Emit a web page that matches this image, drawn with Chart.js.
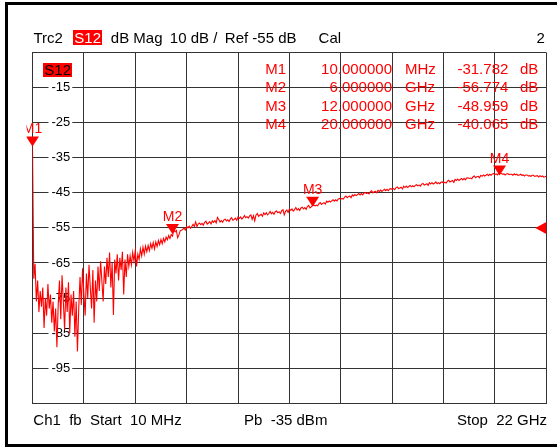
<!DOCTYPE html>
<html lang="en">
<head>
<meta charset="UTF-8">
<title>Trc2 S12 dB Mag</title>
<script src="https://cdn.jsdelivr.net/npm/chart.js"></script>
<style>
    body { margin: 0; background: #fff; font-family: "Liberation Sans", Arial, sans-serif; }
    #wrap { position: relative; width: 557px; height: 447px; overflow: hidden; background: #fff; }
    #frame { position: absolute; left: 5px; top: 2px; width: 600px; height: 439px; border: 3px solid #000; pointer-events: none; }
    canvas { position: absolute; left: 0; top: 0; }
    .t { position: absolute; font-size: 15px; line-height: 15px; white-space: pre; color: #000; }
    .red { color: #f00; }
    .tag { background: #f00; padding: 0 1px; }
</style>
</head>
<body>
<div id="wrap">
    <canvas id="vna" width="557" height="447"></canvas>
    <div id="frame"></div>

    <!-- header line -->
    <span class="t" style="left:33.5px; top:30px">Trc2</span>
    <span class="t tag" style="left:73.3px; top:30px; color:#fff">S12</span>
    <span class="t" style="left:110.8px; top:30px">dB Mag</span>
    <span class="t" style="left:169.8px; top:30px">10 dB /</span>
    <span class="t" style="left:224.8px; top:30px">Ref -55 dB</span>
    <span class="t" style="left:318.6px; top:30px">Cal</span>
    <span class="t" style="left:536.5px; top:30px">2</span>

    <!-- trace tag inside the grid -->
    <span class="t tag" style="left:43.3px; top:63.3px; line-height:14px">S12</span>

    <div id="markerTable"></div>

    <!-- footer line -->
    <span class="t" style="left:33.3px; top:412.3px">Ch1  fb  Start  10 MHz</span>
    <span class="t" style="left:244px; top:412.3px">Pb  -35 dBm</span>
    <span class="t" style="left:457px; top:412.3px">Stop  22 GHz</span>
</div>

<script>
    // sweep settings
    const START_GHZ = 0.01;
    const STOP_GHZ = 22;
    const POINTS = 401;
    const Y_MIN = -105;
    const Y_MAX = -5;
    const REF_LEVEL_DB = -55;

    // S12 trace (dB), one value per sweep point
    const s12dB = [
        // 0.01 - 6 GHz, noise floor region
        -31.78, -69.5, -65.2, -76, -70, -79, -73, -77.5, -72, -83.5,
        -75, -80, -71, -78, -74, -82, -76, -84.5, -78, -89,
        -77, -70, -81, -68.5, -76, -84, -72, -79, -70.5, -85,
        -74, -80, -73, -86, -76, -90.2, -78, -69, -77, -66.5,
        -74, -80, -68, -75, -65.5, -72, -78, -67, -82, -70,
        -76, -66, -73, -64.5, -70, -76, -66, -71, -63.5, -69,
        -62, -72, -65, -79.8, -64, -68, -62.5, -70, -63.5, -67,
        -61.8, -74, -64, -69, -62.5, -66, -63, -65.5, -62, -64.5,
        -61.5, -66, -62.5, -64, -61, -63, -60.5, -62.5, -60.2, -61.8,
        -60, -61.5, -59.5, -60.8, -59.2, -61, -59, -60.3, -58.6, -59.8,
        -58.3, -59.5, -58, -59, -57.6, -58.4, -57.2, -58, -56.9, -57.3,
        // 6 - 12 GHz
        -55.6, -56.1, -55.7, -57.8, -57.0, -55.8, -55.7, -55.4, -55.0, -55.6,
        -54.6, -55.0, -54.5, -55.1, -54.6, -54.0, -54.6, -53.3, -54.6, -53.9,
        -53.6, -54.1, -53.7, -54.2, -53.4, -53.1, -53.9, -53.6, -53.2, -53.9,
        -53.0, -53.4, -52.9, -53.6, -52.0, -52.6, -53.3, -52.9, -53.4, -52.7,
        -52.5, -53.0, -52.7, -53.2, -52.5, -52.1, -52.8, -52.6, -52.2, -52.8,
        -51.9, -52.3, -51.9, -52.5, -52.1, -51.5, -52.1, -51.8, -52.2, -51.6,
        -51.3, -52.6, -51.5, -53.0, -51.3, -50.9, -51.7, -51.4, -51.1, -51.7,
        -50.7, -51.2, -50.7, -51.3, -50.9, -50.3, -51.0, -50.6, -51.1, -50.4,
        -50.2, -50.7, -50.4, -50.9, -50.1, -49.8, -51.3, -50.3, -49.9, -50.6,
        -49.6, -50.0, -49.6, -50.2, -49.8, -49.2, -49.9, -49.5, -50.0, -49.3,
        -49.1, -49.6, -49.2, -49.7, -48.9, -48.6, -49.3, -49.0, -48.6,
        // 12 - 20 GHz
        -48.5, -48.7, -48.5, -48.7, -48.1, -47.8, -48.3, -48.0, -47.8, -48.2,
        -47.4, -47.7, -47.3, -47.6, -47.3, -47.0, -47.4, -47.0, -47.3, -46.8,
        -46.6, -46.8, -46.6, -46.8, -46.2, -45.9, -46.4, -46.1, -45.9, -46.4,
        -45.6, -45.9, -45.5, -45.8, -45.5, -45.2, -45.6, -45.2, -45.6, -45.1,
        -44.9, -45.2, -45.0, -45.3, -44.7, -44.4, -45.0, -44.7, -44.6, -45.0,
        -44.3, -44.6, -44.2, -44.6, -44.3, -44.0, -44.4, -44.0, -44.4, -43.9,
        -43.8, -44.0, -43.8, -44.1, -43.5, -43.3, -43.8, -43.6, -43.4, -43.9,
        -43.1, -43.5, -43.1, -43.5, -43.2, -42.9, -43.3, -43.0, -43.3, -42.9,
        -42.7, -43.0, -42.8, -43.1, -42.5, -42.3, -42.8, -42.6, -42.4, -42.9,
        -42.1, -42.5, -42.1, -42.5, -42.3, -41.9, -42.4, -42.1, -42.4, -42.0,
        -41.9, -42.2, -42.0, -42.2, -41.7, -41.4, -41.9, -41.7, -41.5, -42.0,
        -41.2, -41.5, -41.1, -41.5, -41.2, -40.9, -41.3, -40.9, -41.3, -40.8,
        -40.7, -40.9, -40.8, -41.0, -40.4, -40.2, -40.7, -40.4, -40.3, -40.7,
        -40.0, -40.3, -39.9, -40.2, -40.0, -39.7, -40.1, -39.7, -40.0, -39.6,
        -39.5, -39.8, -39.6, -39.9, -39.4, -39.5,
        // 20 - 22 GHz
        -39.5, -39.7, -39.6, -39.9, -39.6, -39.5, -39.8, -39.7, -39.7, -40.0,
        -39.6, -39.9, -39.7, -40.0, -39.9, -39.7, -40.0, -39.9, -40.2, -39.9,
        -39.9, -40.2, -40.1, -40.3, -40.0, -40.0, -40.3, -40.2, -40.1, -40.5,
        -40.1, -40.4, -40.2, -40.5, -40.4, -40.2
    ];

    // markers
    const markerNames = ['M1', 'M2', 'M3', 'M4'];
    const markerFreqGHz = [0.01, 6, 12, 20];
    const markerFreqText = ['10.000000', '6.000000', '12.000000', '20.000000'];
    const markerUnits = ['MHz', 'GHz', 'GHz', 'GHz'];
    const markerdB = [-31.782, -56.774, -48.959, -40.065];

    // linear sweep frequencies
    const freqGHz = Array.from({length: POINTS}, (_, i) => START_GHZ + i * (STOP_GHZ - START_GHZ) / (POINTS - 1));

    // marker readout table
    const table = document.getElementById('markerTable');
    const rowTops = [60.8, 79.3, 97.8, 116.3];
    markerNames.forEach((name, i) => {
        const top = rowTops[i];
        table.insertAdjacentHTML('beforeend',
            `<span class="t red" style="right:271px; top:${top}px">${name}</span>` +
            `<span class="t red" style="right:165px; top:${top}px">${markerFreqText[i]}</span>` +
            `<span class="t red" style="left:405px; top:${top}px">${markerUnits[i]}</span>` +
            `<span class="t red" style="right:48.7px; top:${top}px">${markerdB[i].toFixed(3)}</span>` +
            `<span class="t red" style="left:520px; top:${top}px">dB</span>`);
    });

    // marker triangles, labels and the reference level arrow
    const markerPlugin = {
        id: 'markers',
        afterDatasetsDraw(chart) {
            const {ctx, chartArea} = chart;
            const x = chart.scales.x, y = chart.scales.y;
            ctx.save();
            ctx.beginPath();
            ctx.rect(chartArea.left - 6, 0, chart.width, chart.height);
            ctx.clip();
            ctx.fillStyle = '#ff0000';
            ctx.font = '14px "Liberation Sans", Arial, sans-serif';
            ctx.textAlign = 'center';
            markerNames.forEach((name, i) => {
                const px = x.getPixelForValue(markerFreqGHz[i]);
                const py = y.getPixelForValue(markerdB[i]);
                ctx.beginPath();
                ctx.moveTo(px, py);
                ctx.lineTo(px - 6.5, py - 10);
                ctx.lineTo(px + 6.5, py - 10);
                ctx.closePath();
                ctx.fill();
                ctx.fillText(name, px, py - 13);
            });
            const ry = y.getPixelForValue(REF_LEVEL_DB);
            ctx.beginPath();
            ctx.moveTo(chartArea.right - 11, ry);
            ctx.lineTo(chartArea.right, ry - 6);
            ctx.lineTo(chartArea.right, ry + 6);
            ctx.closePath();
            ctx.fill();
            ctx.restore();
        }
    };

    const isEdge = v => v === Y_MIN || v === Y_MAX;

    const vnaChart = new Chart(document.getElementById('vna'), {
        type: 'line',
        data: {
            datasets: [{
                label: 'S12',
                data: freqGHz.map((f, i) => ({x: f, y: s12dB[i]})),
                borderColor: '#ff0000',
                borderWidth: 1.1,
                pointRadius: 0,
                tension: 0
            }]
        },
        options: {
            responsive: false,
            animation: false,
            devicePixelRatio: 1,
            layout: {padding: {left: 32.5, top: 52.5, right: 10.7, bottom: 43.7}},
            plugins: {
                legend: {display: false},
                tooltip: {enabled: false}
            },
            scales: {
                x: {
                    type: 'linear',
                    min: START_GHZ,
                    max: STOP_GHZ,
                    ticks: {display: false, stepSize: (STOP_GHZ - START_GHZ) / 10},
                    grid: {color: '#333', drawTicks: false},
                    border: {color: '#333'}
                },
                y: {
                    min: Y_MIN,
                    max: Y_MAX,
                    // labels sit inside the grid, so the axis takes no room
                    afterFit: scale => { scale.width = 0; },
                    ticks: {
                        stepSize: 10,
                        mirror: true,
                        padding: 19,
                        color: '#000',
                        font: {family: '"Liberation Sans", Arial, sans-serif', size: 13},
                        showLabelBackdrop: ctx => !isEdge(ctx.tick.value),
                        backdropColor: '#fff',
                        backdropPadding: {left: 3, right: 2, top: 0, bottom: 0},
                        callback: v => isEdge(v) ? '' : String(v)
                    },
                    grid: {color: '#333', drawTicks: false},
                    border: {color: '#333'}
                }
            }
        },
        plugins: [markerPlugin]
    });
</script>
</body>
</html>
